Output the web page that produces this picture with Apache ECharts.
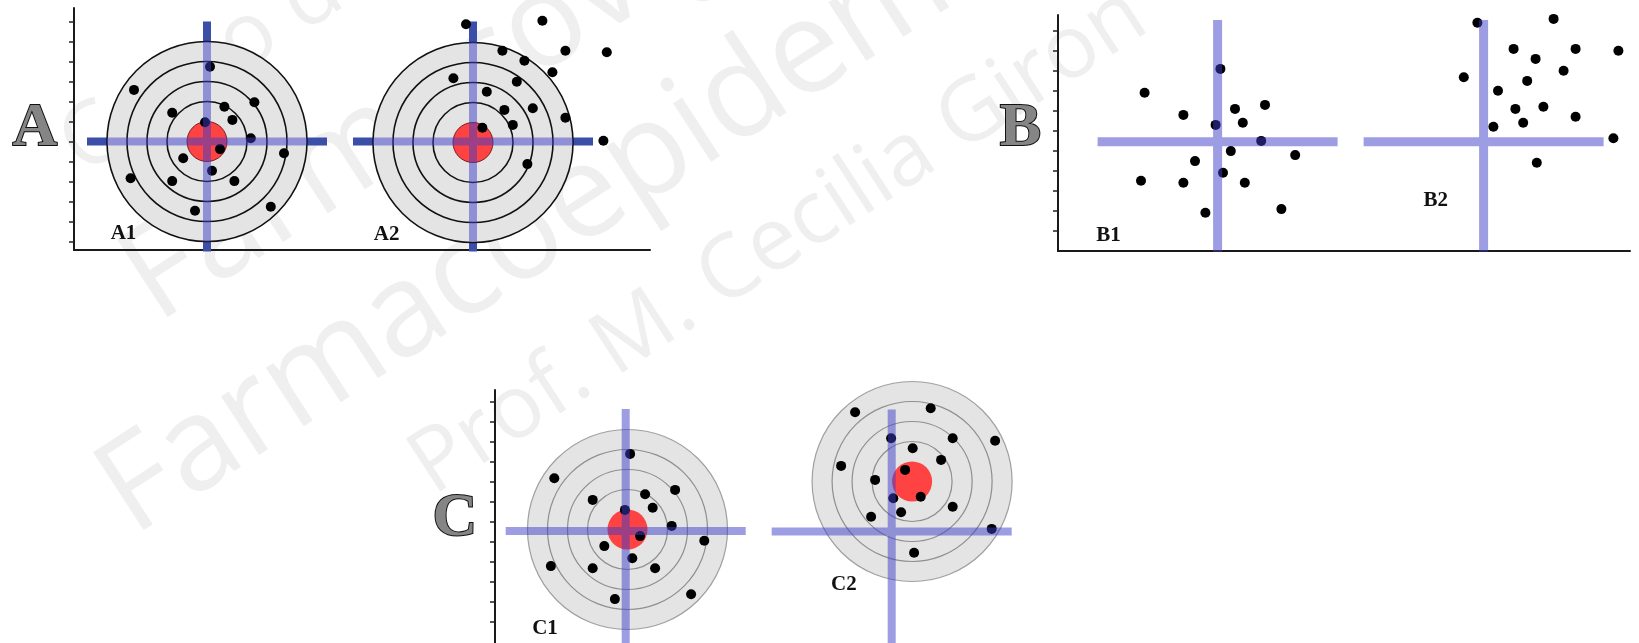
<!DOCTYPE html>
<html><head><meta charset="utf-8">
<script src="https://cdn.jsdelivr.net/npm/echarts@6/dist/echarts.min.js"></script>
<style>html,body{margin:0;padding:0;background:#fff}#c{width:1639px;height:643px}</style>
</head><body><div id="c"></div>
<script>
// ---- data (units: 1 = one ring width) ----
const ringRadii = [5, 4, 3, 2];
const bullRadius = 1;
const targetsA = [[0, 0], [13.3, -0.05]];
const targetsC = [[0, 0], [14.23, 2.4]];
const crossesA = [[0, 0], [13.3, 0]];
const crossArmsA = [6, 6, 6, 5.5];       // left, right, up, down
const innerArmsA = [5, 5, 5, 5];
const crossesB = [[0, 0], [13.3, 0]];
const crossArmsB = [6, 6, 6.08, 5.5];
const crossesC = [[-0.09, -0.08], [13.21, -0.1]];
const crossArmsC = [6, 6, 6.1, 5.8];

const pointsA1 = [[0.15,3.74],[-3.65,2.58],[2.37,1.96],[-1.74,1.44],[0.87,1.74],[1.27,1.08],[-0.1,0.96],[2.19,0.16],[0.65,-0.38],[3.85,-0.59],[-1.19,-0.84],[0.25,-1.46],[-3.82,-1.84],[-1.74,-1.98],[1.37,-1.98],[-0.6,-3.46],[3.19,-3.26]];
const pointsA2 = [[12.95,5.86],[16.77,6.04],[17.92,4.54],[19.99,4.46],[14.77,4.54],[15.87,4.04],[17.27,3.46],[12.32,3.16],[15.49,2.99],[13.99,2.49],[16.29,1.66],[14.87,1.58],[17.92,1.19],[15.29,0.83],[13.77,0.69],[19.82,0.04],[16.02,-1.13]];
const pointsB1 = [[0.14,3.64],[-3.65,2.45],[-1.71,1.34],[0.87,1.64],[2.37,1.84],[-0.1,0.84],[1.26,0.95],[2.18,0.04],[0.66,-0.47],[3.88,-0.67],[-1.13,-0.97],[0.27,-1.55],[-3.83,-1.95],[-1.71,-2.05],[1.36,-2.05],[-0.61,-3.55],[3.19,-3.37]];
const pointsB2 = [[12.99,5.95],[16.8,6.14],[14.8,4.64],[17.9,4.64],[20.04,4.55],[15.9,4.14],[12.31,3.22],[17.3,3.55],[15.48,3.04],[14.02,2.55],[14.89,1.64],[16.29,1.75],[17.9,1.25],[13.79,0.75],[15.28,0.95],[19.79,0.17],[15.96,-1.05]];
const pointsC1 = [[0.13,3.78],[-3.66,2.56],[2.38,1.98],[-1.74,1.48],[0.88,1.76],[1.26,1.09],[-0.13,0.98],[2.21,0.18],[0.63,-0.33],[3.84,-0.56],[-1.16,-0.83],[0.24,-1.44],[-3.83,-1.83],[-1.74,-1.94],[1.38,-1.94],[-0.63,-3.48],[3.18,-3.24]];
const pointsC2 = [[11.38,5.86],[15.16,6.06],[13.18,4.56],[16.26,4.56],[18.38,4.44],[14.26,4.06],[10.68,3.18],[15.68,3.48],[13.88,2.98],[12.38,2.48],[13.29,1.56],[14.66,1.64],[16.26,1.14],[12.18,0.64],[13.68,0.86],[18.21,0.03],[14.33,-1.16]];

const ticksA = [-5,-4,-3,-2,-1,0,1,2,3,4,5,6];
const ticksB = [-4.45,-3.45,-2.45,-1.45,-0.45,0.55,1.55,2.55,3.55,4.55,5.55];
const ticksC = [-4.61,-3.61,-2.61,-1.61,-0.61,0.39,1.39,2.39,3.39,4.39,5.39,6.39];

const panelLetters = ['A', 'B', 'C'];
const subLabels = ['A1', 'A2', 'B1', 'B2', 'C1', 'C2'];
const watermark = ['Corso di', 'Farmacovigilanza', 'Farmacoepidemiologia', 'Prof. M. Cecilia Giron'];

// ---- renderers ----
function crossRenderer(color, half) {
  return function (params, api) {
    const x = api.value(0), y = api.value(1);
    const c = api.coord([x, y]);
    const L = api.coord([x - api.value(2), y])[0];
    const R = api.coord([x + api.value(3), y])[0];
    const T = api.coord([x, y + api.value(4)])[1];
    const B = api.coord([x, y - api.value(5)])[1];
    const cx = c[0], cy = c[1], h = half;
    return {
      type: 'polygon',
      shape: { points: [[L, cy - h], [cx - h, cy - h], [cx - h, T], [cx + h, T], [cx + h, cy - h], [R, cy - h],
                        [R, cy + h], [cx + h, cy + h], [cx + h, B], [cx - h, B], [cx - h, cy + h], [L, cy + h]] },
      style: { fill: color }
    };
  };
}
function targetRenderer(ringColor, ringWidth, outerColor, bullStroke) {
  return function (params, api) {
    const c = api.coord([api.value(0), api.value(1)]);
    const u = api.size([1, 1])[0];
    const children = [];
    ringRadii.forEach(function (r, i) {
      children.push({ type: 'circle', shape: { cx: c[0], cy: c[1], r: r * u },
        style: { fill: i === 0 ? '#e4e4e4' : 'none', stroke: i === 0 ? outerColor : ringColor, lineWidth: ringWidth } });
    });
    children.push({ type: 'circle', shape: { cx: c[0], cy: c[1], r: bullRadius * u },
      style: { fill: '#ff4343', stroke: bullStroke || 'none', lineWidth: bullStroke ? 1 : 0 } });
    return { type: 'group', children: children };
  };
}
const withArms = (centers, arms) => centers.map(c => [c[0], c[1]].concat(arms));
const LAV = 'rgba(60,60,200,0.5)';

function yAx(gi, min, max, ticks) {
  return { gridIndex: gi, type: 'value', min: min, max: max,
    axisLine: { show: true, onZero: false, lineStyle: { color: '#1a1a1a', width: 2 } },
    axisTick: { show: true, length: 5, customValues: ticks, lineStyle: { color: '#222', width: 1.5 } },
    axisLabel: { show: false }, splitLine: { show: false } };
}
function xAx(gi, min, max, showLine) {
  return { gridIndex: gi, type: 'value', min: min, max: max,
    axisLine: { show: showLine, onZero: false, lineStyle: { color: '#1a1a1a', width: 2 } },
    axisTick: { show: false }, axisLabel: { show: false }, splitLine: { show: false } };
}
function dots(gi, data) {
  return { type: 'scatter', xAxisIndex: gi, yAxisIndex: gi, data: data, symbolSize: 10, clip: false, z: 4,
    itemStyle: { color: '#000', opacity: 1 }, silent: true };
}

// ---- text graphics ----
const TH = 33 * Math.PI / 180, SN = Math.sin(TH), CS = Math.cos(TH);
function wm(text, ox, oy, fs) {
  const k = 0.285 * fs;
  return { type: 'text', x: ox - k * SN, y: oy - k * CS, rotation: TH, z: 0, silent: true,
    style: { text: text, font: '400 ' + fs + 'px "Open Sans"', fill: '#efefef',
      align: 'left', verticalAlign: 'middle', textAlign: 'left', textVerticalAlign: 'middle' } };
}
function big(text, x, y) {
  return { type: 'text', x: x, y: y, z: 10, silent: true,
    style: { text: text, font: 'bold 62px "Liberation Serif"', fill: '#858585', stroke: '#111', lineWidth: 2,
      align: 'center', verticalAlign: 'middle', textAlign: 'center', textVerticalAlign: 'middle' } };
}
function sub(text, x, y) {
  return { type: 'text', x: x, y: y, z: 10, silent: true,
    style: { text: text, font: 'bold 21px "Liberation Serif"', fill: '#111',
      align: 'center', verticalAlign: 'middle', textAlign: 'center', textVerticalAlign: 'middle' } };
}

const chart = echarts.init(document.getElementById('c'), null, { renderer: 'canvas' });
chart.setOption({
  animation: false,
  backgroundColor: '#fff',
  grid: [
    { left: 74, top: 8, width: 576, height: 242 },
    { left: 1058, top: 15, width: 572, height: 236 },
    { left: 495, top: 390, width: 525, height: 253 }
  ],
  xAxis: [xAx(0, -6.65, 22.15, true), xAx(1, -7.98, 20.62, true), xAx(2, -6.625, 19.625, false)],
  yAxis: [yAx(0, -5.425, 6.675, ticksA), yAx(1, -5.465, 6.335, ticksB), yAx(2, -5.675, 6.975, ticksC)],
  graphic: [
    wm(watermark[0], 83, 176, 88), wm(watermark[1], 157, 324, 130),
    wm(watermark[2], 133, 537, 130), wm(watermark[3], 433, 496, 88),
    big(panelLetters[0], 35, 128.5), big(panelLetters[1], 1020.5, 128.5), big(panelLetters[2], 455, 519),
    sub(subLabels[0], 123.5, 233.5), sub(subLabels[1], 386.7, 234.5),
    sub(subLabels[2], 1108.5, 236), sub(subLabels[3], 1435.7, 200.5),
    sub(subLabels[4], 545, 628.5), sub(subLabels[5], 843.8, 584.5)
  ],
  series: [
    // panel A
    { type: 'custom', xAxisIndex: 0, yAxisIndex: 0, z: 2, clip: false, silent: true,
      data: withArms(crossesA, crossArmsA), renderItem: crossRenderer('#3b4fa8', 4) },
    { type: 'custom', xAxisIndex: 0, yAxisIndex: 0, z: 3, clip: false, silent: true,
      data: targetsA, renderItem: targetRenderer('#111', 1.6, '#111', '#7a1f1f') },
    dots(0, pointsA1), dots(0, pointsA2),
    { type: 'custom', xAxisIndex: 0, yAxisIndex: 0, z: 5, clip: false, silent: true,
      data: withArms(crossesA, innerArmsA), renderItem: crossRenderer(LAV, 4) },
    // panel B
    dots(1, pointsB1), dots(1, pointsB2),
    { type: 'custom', xAxisIndex: 1, yAxisIndex: 1, z: 5, clip: false, silent: true,
      data: withArms(crossesB, crossArmsB), renderItem: crossRenderer(LAV, 4.5) },
    // panel C
    { type: 'custom', xAxisIndex: 2, yAxisIndex: 2, z: 3, clip: false, silent: true,
      data: targetsC, renderItem: targetRenderer('#8f8f8f', 1.2, '#a0a0a0', null) },
    dots(2, pointsC1), dots(2, pointsC2),
    { type: 'custom', xAxisIndex: 2, yAxisIndex: 2, z: 5, clip: false, silent: true,
      data: withArms(crossesC, crossArmsC), renderItem: crossRenderer(LAV, 4) }
  ]
});
</script></body></html>
